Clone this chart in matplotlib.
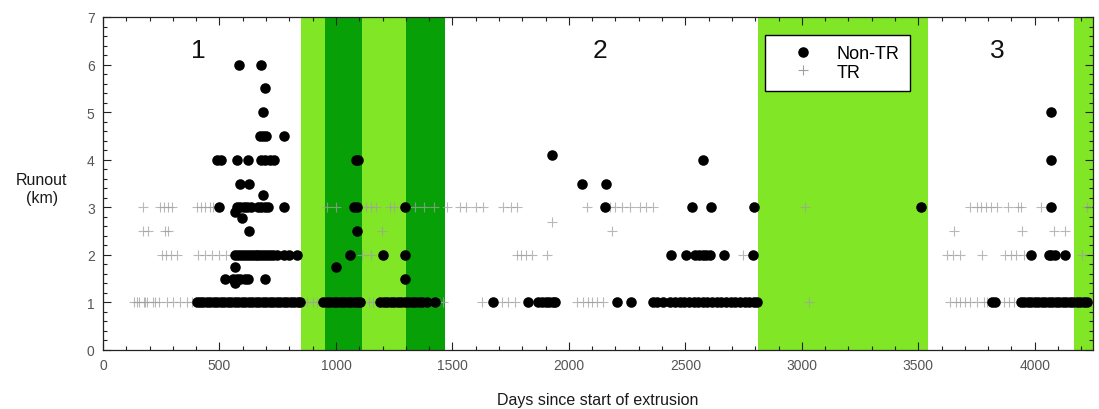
import matplotlib
matplotlib.use('Agg')
import matplotlib.pyplot as plt
from matplotlib.ticker import MultipleLocator
from matplotlib.lines import Line2D

plt.rcParams['font.family'] = ['Liberation Sans', 'DejaVu Sans']

# ---------------- data ----------------
# shaded periods (days)
band_start = [850, 955, 1110, 1300, 2810, 4170]
band_end = [955, 1110, 1300, 1470, 3540, 4260]
band_color = ['#80E626', '#07A007', '#80E626', '#07A007', '#80E626', '#80E626']

# phase labels
phase_text = ['1', '2', '3']
phase_day = [408, 2135, 3840]
phase_y = [6.3, 6.3, 6.3]

# Non-TR events: (day lists per runout level)
nontr_levels = [6.0, 5.5, 5.0, 4.5, 4.1, 4.0, 3.5, 3.25, 3.0, 2.9, 2.77, 2.5, 2.0, 1.75, 1.5, 1.4, 1.0]
nontr_days = [
    [585, 677],
    [696],
    [686, 4068],
    [672, 686, 700, 775],
    [1927],
    [490, 505, 577, 624, 680, 695, 715, 735, 1085, 1095, 2576, 4068],
    [588, 628, 2056, 2159],
    [686],
    [500, 575, 590, 605, 620, 635, 665, 680, 695, 710, 778, 1078, 1090, 1297,
     2156, 2530, 2610, 2793, 3510, 4068],
    [567],
    [596],
    [628, 1090],
    [567, 580, 592, 605, 617, 630, 642, 655, 667, 680, 692, 705, 717, 730, 745,
     775, 800, 832, 1061, 1204, 1297, 2440, 2504, 2543, 2558, 2575, 2590, 2607,
     2667, 2790, 3982, 4059, 4070, 4089, 4128],
    [567, 1001],
    [524, 560, 575, 590, 610, 624, 696, 1297],
    [567],
    [402, 415, 430, 445, 460, 475, 490, 505, 520, 535, 550, 565, 580, 595, 610,
     625, 640, 655, 670, 685, 700, 715, 730, 745, 760, 775, 790, 805, 820, 835,
     846, 945, 960, 975, 990, 1005, 1020, 1035, 1050, 1065, 1080, 1095, 1104,
     1190, 1205, 1220, 1235, 1250, 1265, 1280, 1295, 1310, 1325, 1340, 1355,
     1370, 1392, 1426, 1676, 1826, 1869, 1885, 1900, 1915, 1930, 1942, 2207,
     2268, 2363, 2380, 2405, 2435, 2455, 2475, 2495, 2515, 2535, 2555, 2575,
     2595, 2615, 2635, 2655, 2675, 2695, 2715, 2735, 2755, 2775, 2795, 2808,
     3815, 3830, 3939, 3955, 3970, 3985, 4000, 4015, 4030, 4045, 4060, 4075,
     4090, 4105, 4120, 4135, 4150, 4165, 4180, 4195, 4210, 4225],
]

# TR events
tr_levels = [3.0, 2.7, 2.5, 2.0, 1.0]
tr_days = [
    [172, 245, 260, 280, 296, 404, 420, 440, 460, 472, 960, 1000, 1130, 1150,
     1170, 1230, 1250, 1340, 1380, 1420, 1478, 1533, 1560, 1600, 1632, 1718,
     1750, 1778, 2079, 2178, 2200, 2230, 2264, 2307, 2330, 2363, 3015, 3724,
     3750, 3770, 3790, 3810, 3840, 3883, 3926, 3939, 4025, 4225],
    [1927],
    [172, 193, 266, 279, 1198, 2185, 3653, 3946, 4081, 4128],
    [253, 270, 290, 317, 408, 440, 470, 500, 530, 558, 1110, 1150, 1200, 1778,
     1795, 1815, 1843, 1907, 2749, 3624, 3650, 3681, 3774, 3874, 3900, 3920,
     3952, 4204],
    [135, 145, 155, 175, 180, 190, 215, 225, 240, 275, 300, 330, 360, 380, 400,
     415, 876, 900, 919, 1140, 1160, 1180, 1440, 1460, 1627, 1713, 1740, 1770,
     2036, 2060, 2080, 2100, 2120, 2148, 3030, 3638, 3660, 3680, 3700, 3720,
     3750, 3780, 3797, 3866, 3890, 3910, 3939, 4240],
]

# ---------------- figure ----------------
fig = plt.figure(figsize=(10.99, 4.10), dpi=100)
ax = fig.add_axes([103 / 1099, 59 / 410, 990 / 1099, 333 / 410])

for s, e, c in zip(band_start, band_end, band_color):
    ax.axvspan(s, e, color=c, lw=0, zorder=0)

for lvl, days in zip(tr_levels, tr_days):
    ax.plot(days, [lvl] * len(days), linestyle='none', marker='+',
            markersize=7, mew=0.8, color='#a0a0a0', alpha=0.75, zorder=2)

for lvl, days in zip(nontr_levels, nontr_days):
    ax.plot(days, [lvl] * len(days), linestyle='none', marker='o',
            markersize=7.6, color='black', mew=0, zorder=3)

for t, xd, yd in zip(phase_text, phase_day, phase_y):
    ax.text(xd, yd, t, fontsize=19, ha='center', va='center', color='#111111')

ax.set_xlim(0, 4250)
ax.set_ylim(0, 7)
ax.xaxis.set_major_locator(MultipleLocator(500))
ax.xaxis.set_minor_locator(MultipleLocator(100))
ax.yaxis.set_major_locator(MultipleLocator(1))
ax.yaxis.set_minor_locator(MultipleLocator(0.2))
ax.tick_params(which='both', direction='in', top=True, right=True,
               color='#222222', width=0.8)
ax.tick_params(which='major', length=6, labelsize=10, labelcolor='#555555', pad=6)
ax.tick_params(which='minor', length=3)
for sp in ax.spines.values():
    sp.set_linewidth(0.9)
    sp.set_color('#222222')

ax.set_xlabel('Days since start of extrusion', fontsize=11.5, color='#1a1a1a', labelpad=14)
ax.text(-0.062, 0.485, 'Runout\n(km)', transform=ax.transAxes, fontsize=11.5,
        ha='center', va='center', color='#1a1a1a', linespacing=1.2)

handles = [
    Line2D([], [], linestyle='none', marker='o', markersize=7.6, color='black', mew=0),
    Line2D([], [], linestyle='none', marker='+', markersize=7, mew=0.8, color='#a0a0a0'),
]
leg = ax.legend(handles, ['Non-TR', 'TR'], loc='upper left',
                bbox_to_anchor=(0.6687, 0.946), fontsize=13, frameon=True,
                fancybox=False, edgecolor='black', framealpha=1,
                borderpad=0.55, labelspacing=0.1, handletextpad=0.33,
                borderaxespad=0, handlelength=3.1)
leg.get_frame().set_linewidth(1.0)

fig.savefig('out.png', dpi=100)
